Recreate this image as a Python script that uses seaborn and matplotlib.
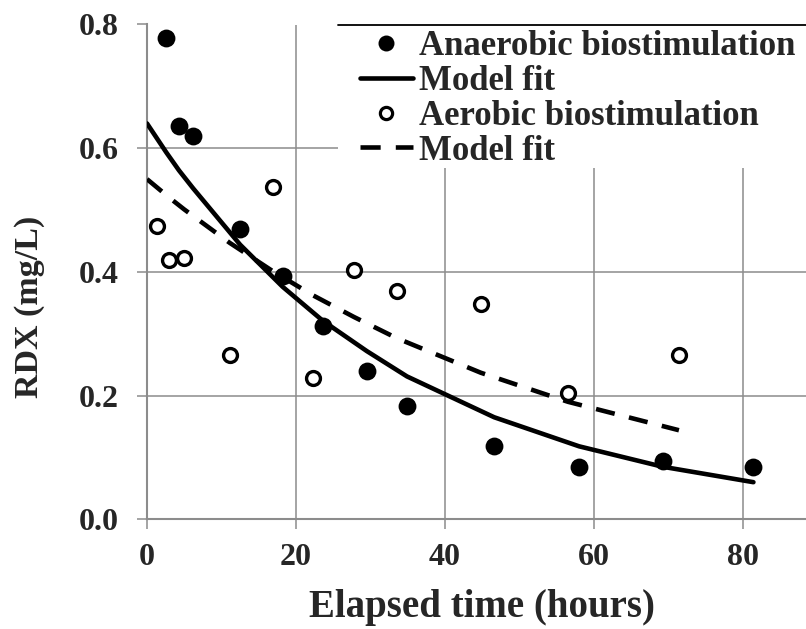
import matplotlib
matplotlib.use("Agg")
import matplotlib.pyplot as plt
import seaborn as sns
import pandas as pd
from matplotlib.lines import Line2D
from matplotlib.patches import Rectangle
from matplotlib.ticker import FormatStrFormatter

# Measured RDX concentrations (mg/L) over elapsed time (hours)
anaerobic_time = [2.6, 4.3, 6.2, 12.5, 18.2, 23.6, 29.5, 34.9, 46.6, 58.0, 69.2, 81.4]
anaerobic_rdx = [0.778, 0.636, 0.620, 0.469, 0.393, 0.313, 0.240, 0.183, 0.119, 0.084, 0.094, 0.085]

aerobic_time = [1.3, 3.0, 5.0, 11.1, 16.9, 22.3, 27.8, 33.5, 44.8, 56.5, 71.4]
aerobic_rdx = [0.474, 0.420, 0.422, 0.265, 0.537, 0.229, 0.403, 0.369, 0.348, 0.204, 0.265]

# First-order decay model curves evaluated at the sampling times
anaerobic_fit_time = [0.0, 2.6, 4.3, 6.2, 12.5, 18.2, 23.6, 29.5, 34.9, 46.6, 58.0, 69.2, 81.4]
anaerobic_fit_rdx = [0.640, 0.593, 0.564, 0.535, 0.444, 0.376, 0.321, 0.272, 0.231, 0.165, 0.118, 0.085, 0.060]

aerobic_fit_time = [0.0, 1.3, 3.0, 5.0, 11.1, 16.9, 22.3, 27.8, 33.5, 44.8, 56.5, 71.4]
aerobic_fit_rdx = [0.550, 0.537, 0.520, 0.501, 0.447, 0.401, 0.362, 0.327, 0.293, 0.237, 0.190, 0.144]

x_ticks = [0, 20, 40, 60, 80]
y_ticks = [0.0, 0.2, 0.4, 0.6, 0.8]

sns.set_theme(style="white")
plt.rcParams["font.family"] = ["Liberation Serif", "DejaVu Serif"]
plt.rcParams["font.weight"] = "bold"
plt.rcParams["axes.labelweight"] = "bold"

GRID = "#8c8c8c"
W, H = 806, 629
DASH = [4.2, 3.2]

fig = plt.figure(figsize=(W / 100, H / 100), dpi=100)
ax = fig.add_axes([147 / W, 1 - 519.3 / H, (817.5 - 147) / W, (519.3 - 24.5) / H])

ana = pd.DataFrame({"t": anaerobic_time, "rdx": anaerobic_rdx})
aer = pd.DataFrame({"t": aerobic_time, "rdx": aerobic_rdx})
ana_fit = pd.DataFrame({"t": anaerobic_fit_time, "rdx": anaerobic_fit_rdx})
aer_fit = pd.DataFrame({"t": aerobic_fit_time, "rdx": aerobic_fit_rdx})

sns.lineplot(data=ana_fit, x="t", y="rdx", ax=ax, color="black", linewidth=3.3,
             estimator=None, sort=False, zorder=3)
sns.lineplot(data=aer_fit, x="t", y="rdx", ax=ax, color="black", linewidth=3.3,
             estimator=None, sort=False, zorder=3)
ax.lines[-1].set_dashes(DASH)
sns.scatterplot(data=ana, x="t", y="rdx", ax=ax, color="black", s=165,
                edgecolor="black", linewidth=0, zorder=4)
sns.scatterplot(data=aer, x="t", y="rdx", ax=ax, facecolor="white", s=100,
                edgecolor="black", linewidth=2.4, zorder=4)

ax.set_xlim(0, 90)
ax.set_ylim(0, 0.8)
ax.set_xticks(x_ticks)
ax.set_yticks(y_ticks)
ax.yaxis.set_major_formatter(FormatStrFormatter("%.1f"))

ax.set_axisbelow(True)
ax.grid(True, color=GRID, linewidth=1.1)
for side in ("top", "right"):
    ax.spines[side].set_visible(False)
for side in ("left", "bottom"):
    ax.spines[side].set_color(GRID)
    ax.spines[side].set_linewidth(1.5)
ax.tick_params(axis="both", direction="out", length=7, width=1.1, color=GRID,
               labelsize=23, left=True, bottom=True)
ax.tick_params(axis="y", pad=13)
ax.tick_params(axis="x", pad=10)
for lbl in ax.get_xticklabels() + ax.get_yticklabels():
    lbl.set_fontweight("bold")

ax.set_xlabel("Elapsed time (hours)", fontsize=28, fontweight="bold", labelpad=12)
ax.set_ylabel("RDX (mg/L)", fontsize=24.5, fontweight="bold")
ax.yaxis.set_label_coords(-0.152, 0.43)

# White legend panel with a black upper edge
lx0 = (338 - 147) / (817.5 - 147)
ly0 = (519.3 - 168) / (519.3 - 24.5)
ax.add_patch(Rectangle((lx0, ly0), 1.2 - lx0, 1 - ly0, transform=ax.transAxes,
                       facecolor="white", edgecolor="none", zorder=1.5, clip_on=False))
ax.add_line(Line2D([lx0, 1.2], [1, 1], transform=ax.transAxes, color="black",
                   linewidth=1.3, zorder=1.6, clip_on=False))

handles = [
    Line2D([], [], color="black", marker="o", linestyle="none", markersize=11.5,
           markeredgewidth=0),
    Line2D([], [], color="black", linewidth=3.3),
    Line2D([], [], color="black", marker="o", linestyle="none", markersize=8.8,
           markerfacecolor="white", markeredgewidth=2.3),
    Line2D([], [], color="black", linewidth=3.3, dashes=[4.4, 3.3]),
]
labels = ["Anaerobic biostimulation", "Model fit", "Aerobic biostimulation", "Model fit"]
leg = ax.legend(handles, labels, loc="upper left",
                bbox_to_anchor=(350 / W, 1 - 20 / H), bbox_transform=fig.transFigure,
                frameon=False, fontsize=25, handlelength=1.5, handletextpad=0.2,
                labelspacing=0.05, borderpad=0.3, borderaxespad=0)
for t in leg.get_texts():
    t.set_fontweight("bold")
leg.set_zorder(5)

fig.savefig("out.png", dpi=100)
